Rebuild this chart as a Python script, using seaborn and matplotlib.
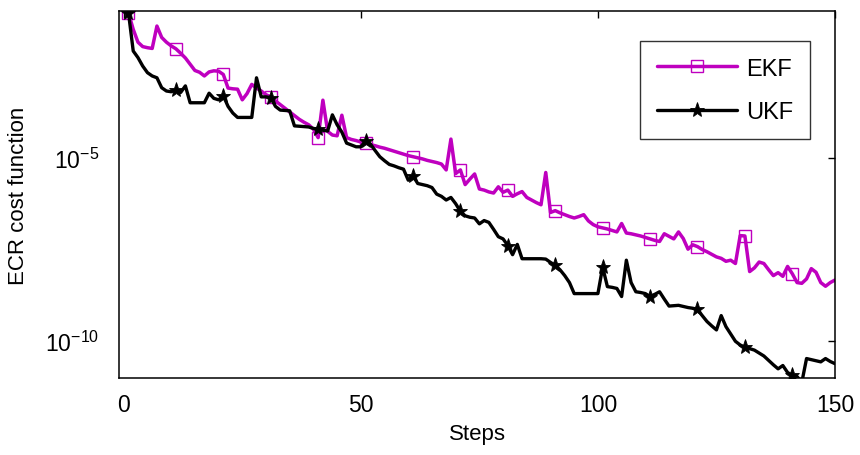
import numpy as np
import pandas as pd
import matplotlib
matplotlib.use("Agg")
import matplotlib.pyplot as plt
import matplotlib.ticker as mticker
import seaborn as sns

# log10 of the ECR cost, steps 1..150
steps = list(range(1, 151))
ekf_log = [
    -1.05, -1.50, -1.85, -1.97, -2.00, -2.02, -1.41, -1.72, -1.85, -1.95,
    -2.03, -2.15, -2.28, -2.45, -2.62, -2.67, -2.77, -2.66, -2.63, -2.64,
    -2.73, -3.10, -3.12, -3.13, -3.42, -3.25, -3.00, -3.10, -3.18, -3.28,
    -3.34, -3.45, -3.55, -3.65, -3.75, -3.85, -3.95, -4.03, -4.10, -4.22,
    -4.45, -3.43, -4.28, -4.38, -4.40, -3.84, -4.45, -4.50, -4.53, -4.57,
    -4.60, -4.64, -4.67, -4.71, -4.74, -4.78, -4.82, -4.86, -4.90, -4.94,
    -4.97, -5.00, -5.03, -5.07, -5.10, -5.13, -5.17, -5.33, -4.49, -5.43,
    -5.33, -5.73, -5.58, -5.44, -5.85, -5.88, -5.93, -5.96, -5.79, -5.94,
    -5.88, -6.05, -5.98, -5.92, -6.08, -6.15, -6.22, -6.28, -5.40, -6.49,
    -6.44, -6.50, -6.55, -6.60, -6.64, -6.60, -6.55, -6.72, -6.82, -6.88,
    -6.91, -6.94, -6.98, -7.02, -6.79, -7.05, -7.07, -7.10, -7.13, -7.17,
    -7.21, -7.25, -7.28, -7.07, -7.14, -7.21, -7.02, -7.20, -7.49, -7.37,
    -7.42, -7.50, -7.56, -7.63, -7.70, -7.74, -7.82, -7.79, -7.88, -7.12,
    -7.13, -8.10, -8.00, -7.84, -7.88, -8.05, -8.21, -8.13, -8.23, -7.96,
    -8.16, -8.40, -8.42, -8.30, -8.02, -8.12, -8.40, -8.50, -8.40, -8.33,
]
ukf_log = [
    -1.05, -2.09, -2.27, -2.50, -2.68, -2.77, -2.82, -3.09, -3.18, -3.20,
    -3.15, -3.22, -3.04, -3.50, -3.50, -3.50, -3.50, -3.24, -3.38, -3.42,
    -3.31, -3.60, -3.78, -3.90, -3.90, -3.90, -3.90, -2.82, -3.34, -3.34,
    -3.36, -3.60, -3.70, -3.71, -3.72, -4.13, -4.14, -4.15, -4.16, -4.20,
    -4.22, -4.25, -4.27, -3.83, -4.10, -4.30, -4.60, -4.65, -4.70, -4.70,
    -4.54, -4.62, -4.80, -4.97, -5.08, -5.18, -5.22, -5.27, -5.31, -5.61,
    -5.49, -5.70, -5.73, -5.76, -5.81, -5.99, -6.05, -6.15, -6.08, -6.25,
    -6.46, -6.58, -6.62, -6.64, -6.80, -6.71, -6.76, -6.95, -7.15, -7.21,
    -7.39, -7.64, -7.36, -7.75, -7.75, -7.75, -7.75, -7.75, -7.76, -7.85,
    -7.93, -8.05, -8.21, -8.40, -8.70, -8.70, -8.70, -8.70, -8.70, -8.70,
    -7.98, -8.51, -8.53, -8.56, -8.78, -7.79, -8.40, -8.65, -8.67, -8.70,
    -8.78, -8.72, -8.65, -8.85, -9.04, -9.03, -9.02, -9.05, -9.08, -9.10,
    -9.13, -9.30, -9.46, -9.58, -9.69, -9.30, -9.60, -9.80, -10.00, -10.10,
    -10.16, -10.20, -10.24, -10.32, -10.40, -10.52, -10.64, -10.75, -10.66, -10.85,
    -10.93, -10.96, -11.12, -10.47, -10.50, -10.53, -10.56, -10.47, -10.55, -10.61,
]

df = pd.DataFrame({
    "Steps": steps,
    "EKF": 10.0 ** np.array(ekf_log),
    "UKF": 10.0 ** np.array(ukf_log),
})

sns.set_style("white")
plt.rcParams["font.family"] = ["Liberation Sans", "DejaVu Sans"]
plt.rcParams["mathtext.fontset"] = "custom"
plt.rcParams["mathtext.rm"] = "Liberation Sans"
plt.rcParams["mathtext.it"] = "Liberation Sans:italic"
plt.rcParams["text.color"] = "black"
plt.rcParams["axes.labelcolor"] = "black"

fig = plt.figure(figsize=(8.6, 4.56), dpi=100)
ax = fig.add_axes([119 / 860, 1 - 379 / 456, (835 - 119) / 860, (379 - 12) / 456])

every = slice(0, None, 10)
sns.lineplot(data=df, x="Steps", y="EKF", ax=ax, color="#bf00bf", linewidth=2.5,
             marker="s", markersize=8, markerfacecolor="none", markeredgecolor="#bf00bf",
             markeredgewidth=1.0, markevery=every, label="EKF")
sns.lineplot(data=df, x="Steps", y="UKF", ax=ax, color="black", linewidth=2.4,
             marker="*", markersize=11, markerfacecolor="black", markeredgecolor="black",
             markeredgewidth=0.6, markevery=every, label="UKF")

ax.set_yscale("log")
ax.set_xlim(-1, 150)
ax.set_ylim(1e-11, 1e-1)
ax.xaxis.set_major_locator(mticker.FixedLocator([0, 50, 100, 150]))
ax.yaxis.set_major_locator(mticker.FixedLocator([1e-10, 1e-5]))
ax.yaxis.set_minor_locator(mticker.NullLocator())
ax.xaxis.set_minor_locator(mticker.NullLocator())

for s in ax.spines.values():
    s.set_visible(True)
    s.set_color("black")
    s.set_linewidth(1.1)
ax.tick_params(direction="in", length=5, width=1.0, top=True, right=True,
               labelsize=16.5, colors="black")
ax.tick_params(axis="y", pad=14)
ax.tick_params(axis="x", pad=11)

ax.set_xlabel("Steps", fontsize=16, labelpad=5)
ax.set_ylabel("ECR cost function", fontsize=16, labelpad=12)

leg = ax.legend(loc="upper right", bbox_to_anchor=(810 / 860, 1 - 42 / 456),
                bbox_transform=fig.transFigure, borderaxespad=0, fontsize=17,
                frameon=True, fancybox=False, handlelength=3.4, handletextpad=0.4,
                numpoints=1, labelspacing=0.9, borderpad=0.7)
leg.get_frame().set_edgecolor("black")
leg.get_frame().set_linewidth(1.0)

fig.savefig("out.png", dpi=100)
plt.close(fig)
